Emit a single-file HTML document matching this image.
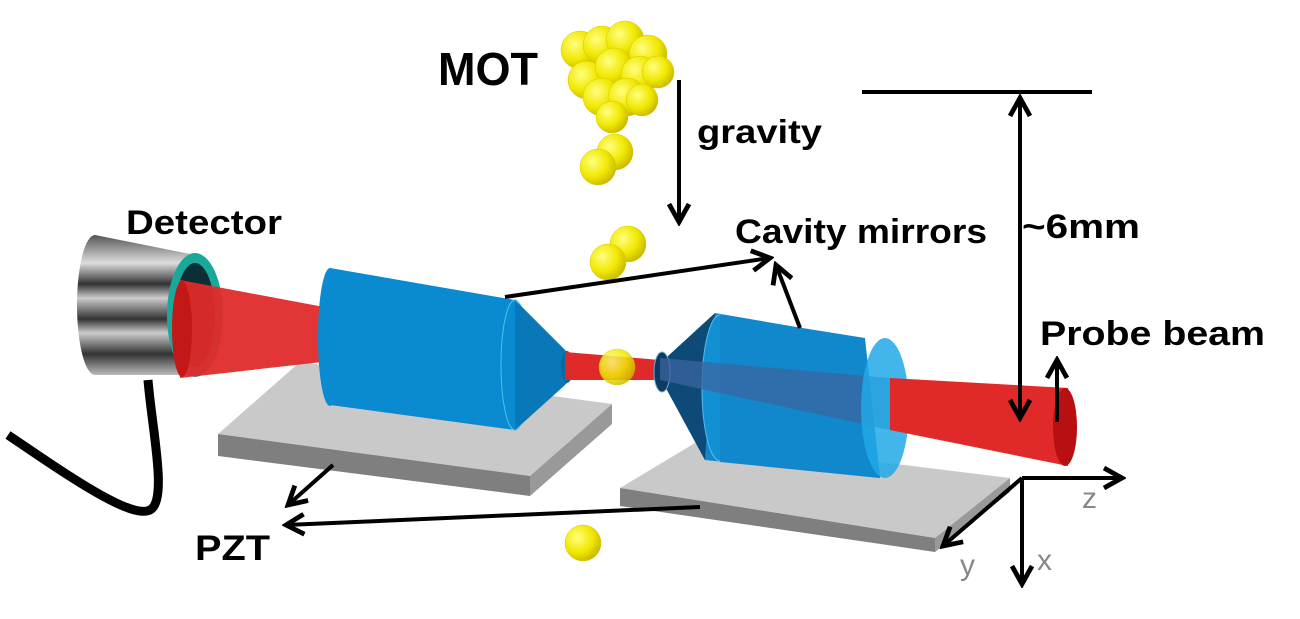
<!DOCTYPE html>
<html><head><style>
html,body{margin:0;padding:0;background:#fff;}
svg{display:block;}
text{font-family:"Liberation Sans",sans-serif;}
</style></head><body>
<svg width="1300" height="619" viewBox="0 0 1300 619" xmlns="http://www.w3.org/2000/svg">
<defs>
<marker id="ah" viewBox="0 0 12 12" refX="10" refY="6" markerWidth="6" markerHeight="6" orient="auto-start-reverse">
<path d="M1,1 L10,6 L1,11" fill="none" stroke="#000" stroke-width="2.4"/>
</marker>
<radialGradient id="ball" cx="0.35" cy="0.35" r="0.7">
<stop offset="0" stop-color="#ffff80"/><stop offset="0.6" stop-color="#f0e800"/><stop offset="1" stop-color="#c8b800"/>
</radialGradient>
<linearGradient id="det" x1="0" y1="0" x2="0" y2="1">
<stop offset="0" stop-color="#555"/><stop offset="0.2" stop-color="#ddd"/><stop offset="0.35" stop-color="#333"/><stop offset="0.45" stop-color="#ccc"/><stop offset="0.6" stop-color="#333"/><stop offset="0.7" stop-color="#ccc"/><stop offset="0.85" stop-color="#333"/><stop offset="1" stop-color="#bbb"/>
</linearGradient>
</defs>

<path d="M148,380 C152,430 168,500 150,510 C130,520 60,470 8,435" fill="none" stroke="#000" stroke-width="9"/>

<polygon points="300,362 612,404 530,476 218,434" fill="#c9c9c9"/>
<polygon points="218,434 530,476 530,496 218,456" fill="#7f7f7f"/>
<polygon points="530,476 612,404 612,424 530,496" fill="#999"/>
<polygon points="700,440 1010,478 935,538 620,488" fill="#c9c9c9"/>
<polygon points="620,488 935,538 935,552 620,506" fill="#7f7f7f"/>
<polygon points="935,538 1010,478 1010,492 935,552" fill="#999"/>

<path d="M95,235 L195,255 L195,375 L95,375 Z" fill="url(#det)"/>
<ellipse cx="95" cy="305" rx="18" ry="70" fill="url(#det)"/>
<ellipse cx="195" cy="315" rx="28" ry="62" fill="#1aa89a"/>
<ellipse cx="195" cy="315" rx="20" ry="52" fill="#0c2e35"/>

<polygon points="180,280 340,310 340,360 180,378" fill="#e02a2a" opacity="0.95"/>
<ellipse cx="182" cy="329" rx="10" ry="48" fill="#c41818"/>

<path d="M330,268 L515,300 L565,350 L565,385 L515,430 L330,405 Z" fill="#0a8ad0"/>
<ellipse cx="330" cy="337" rx="12" ry="69" fill="#0a8ad0"/>
<ellipse cx="515" cy="365" rx="14" ry="65" fill="none" stroke="#4cc0f0" stroke-width="1"/>
<path d="M515,300 L567,352 L567,383 L515,430 Z" fill="#0878b8"/>
<ellipse cx="567" cy="367" rx="6" ry="16" fill="#0a6aa0"/>

<polygon points="565,352 660,360 660,380 565,380" fill="#e02a2a"/>

<path d="M655,368 L715,313 L860,338 L880,478 L705,460 Z" fill="#1288cc"/>
<path d="M655,368 L715,313 L705,460 Z" fill="#0d4a78"/>
<ellipse cx="662" cy="372" rx="8" ry="20" fill="#0d3a60" stroke="#6aa8d0" stroke-width="1"/>
<ellipse cx="720" cy="388" rx="18" ry="73" fill="#1290d4" stroke="#5bb8e8" stroke-width="1"/>
<path d="M720,388 L720,315 L865,338 L880,478 L720,462 Z" fill="#1288cc"/>
<polygon points="660,358 890,378 890,430 660,380" fill="#3b66a0" opacity="0.75"/>
<ellipse cx="885" cy="408" rx="24" ry="70" fill="#21a8e6" opacity="0.85"/>

<polygon points="890,378 1068,388 1068,466 890,430" fill="#e02a2a"/>
<ellipse cx="1065" cy="427" rx="12" ry="39" fill="#b81010"/>

<g fill="url(#ball)" stroke="#d8c800" stroke-width="0.5">
<circle cx="580" cy="50" r="19"/><circle cx="602" cy="45" r="19"/><circle cx="625" cy="40" r="19"/><circle cx="648" cy="54" r="19"/>
<circle cx="587" cy="80" r="19"/><circle cx="614" cy="67" r="19"/><circle cx="640" cy="75" r="19"/><circle cx="658" cy="72" r="16"/>
<circle cx="602" cy="97" r="19"/><circle cx="627" cy="97" r="19"/><circle cx="642" cy="100" r="16"/><circle cx="612" cy="117" r="16"/>
<circle cx="615" cy="152" r="18"/><circle cx="598" cy="167" r="18"/>
<circle cx="628" cy="244" r="18"/><circle cx="608" cy="262" r="18"/>
<circle cx="617" cy="367" r="18" opacity="0.85"/>
<circle cx="583" cy="543" r="18"/>
</g>

<g stroke="#000" stroke-width="4" fill="none">
<line x1="679" y1="80" x2="679" y2="222" marker-end="url(#ah)"/>
<line x1="862" y1="92" x2="1092" y2="92"/>
<line x1="1020" y1="98" x2="1020" y2="418" marker-start="url(#ah)" marker-end="url(#ah)"/>
<line x1="505" y1="297" x2="770" y2="258" marker-end="url(#ah)"/>
<line x1="800" y1="328" x2="776" y2="265" marker-end="url(#ah)"/>
<line x1="1057" y1="422" x2="1057" y2="360" marker-end="url(#ah)"/>
<line x1="333" y1="465" x2="288" y2="505" marker-end="url(#ah)"/>
<line x1="700" y1="507" x2="286" y2="525" marker-end="url(#ah)"/>
<line x1="1022" y1="478" x2="1122" y2="478" marker-end="url(#ah)"/>
<line x1="1022" y1="478" x2="943" y2="546" marker-end="url(#ah)"/>
<line x1="1022" y1="478" x2="1022" y2="584" marker-end="url(#ah)"/>
</g>

<g font-weight="bold" fill="#000">
<text x="438" y="85" font-size="46" textLength="100" lengthAdjust="spacingAndGlyphs">MOT</text>
<text x="697" y="143" font-size="33" textLength="125" lengthAdjust="spacingAndGlyphs">gravity</text>
<text x="126" y="234" font-size="34" textLength="156" lengthAdjust="spacingAndGlyphs">Detector</text>
<text x="735" y="243" font-size="34" textLength="252" lengthAdjust="spacingAndGlyphs">Cavity mirrors</text>
<text x="1022" y="238" font-size="34" textLength="118" lengthAdjust="spacingAndGlyphs">~6mm</text>
<text x="1040" y="345" font-size="34" textLength="225" lengthAdjust="spacingAndGlyphs">Probe beam</text>
<text x="195" y="560" font-size="35" textLength="75" lengthAdjust="spacingAndGlyphs">PZT</text>
</g>
<g fill="#888" font-size="30">
<text x="1082" y="508">z</text>
<text x="960" y="575">y</text>
<text x="1037" y="570">x</text>
</g>
</svg>
</body></html>
